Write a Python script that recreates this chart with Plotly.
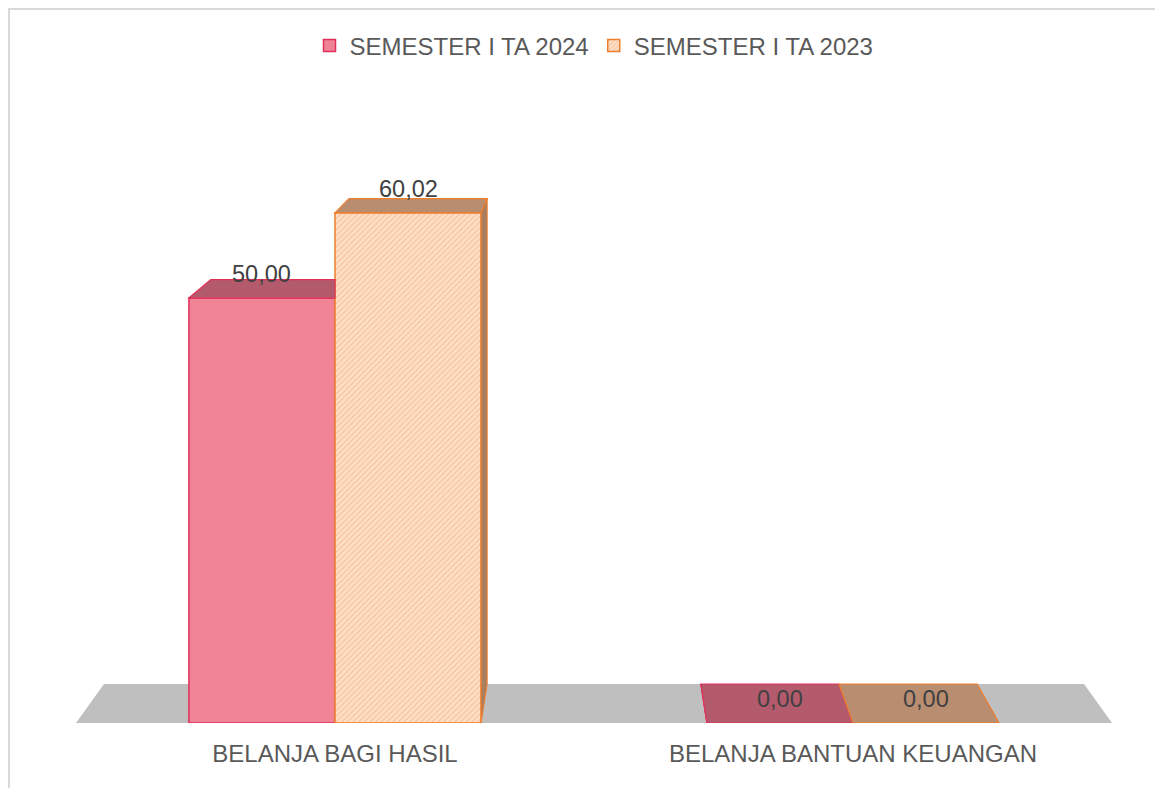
import plotly.graph_objects as go

# ---------------- data ----------------
categories = ["BELANJA BAGI HASIL", "BELANJA BANTUAN KEUANGAN"]
series_names = ["SEMESTER I TA 2024", "SEMESTER I TA 2023"]
sem_2024 = [50.00, 0.00]
sem_2023 = [60.02, 0.00]
labels_2024 = ["50,00", "0,00"]
labels_2023 = ["60,02", "0,00"]

# ---------------- geometry / style ----------------
# page body has an 8px margin, so the figure is sized to fit inside it
W, H = 1147, 780
ml, mt = 68, 120
plot_w, plot_h = 1036, 595
mr = W - ml - plot_w
mb = H - mt - plot_h
y_max = 70.0
px_x = plot_w / 2.0          # pixels per category unit
px_y = plot_h / y_max        # pixels per value unit

bargap = 0.436
bw = (1 - bargap) / 2.0
floor_depth_px = 39.0
shrink = 0.946               # perspective shrink of the back plane
cx = 0.5                     # horizontal vanishing centre (data units)
eye_px = 800.0

x_pos = list(range(len(categories)))

c24_fill, c24_line, c24_top, c24_side = "#F08396", "#E0305A", "#B35B6D", "#A24E60"
c23_bg, c23_fg, c23_line, c23_top, c23_side = "#FDE0C8", "#F2A26A", "#F07D2B", "#B98D70", "#A9805F"
text_col = "#595959"
lab_col = "#404040"
FONT = "Liberation Sans, Arial, sans-serif"


def depth(v):
    return floor_depth_px * (1 - v * px_y / eye_px) / px_y


def back_x(x):
    return cx + (x - cx) * shrink


fig = go.Figure()
fig.add_trace(go.Bar(
    x=x_pos, y=sem_2024, name=series_names[0],
    marker=dict(color=c24_fill, line=dict(color=c24_line, width=1.5)),
    hoverinfo="skip",
))
fig.add_trace(go.Bar(
    x=x_pos, y=sem_2023, name=series_names[1],
    marker=dict(color=c23_bg, line=dict(color=c23_line, width=1.5),
                pattern=dict(shape="/", fgcolor=c23_fg, bgcolor=c23_bg,
                             size=4, solidity=0.3)),
    hoverinfo="skip",
))

shapes = []
# floor
fd = floor_depth_px / px_y
fx0, fx1 = -0.5, 1.5
shapes.append(dict(
    type="path", xref="x", yref="y", layer="below",
    path=f"M {fx0} 0 L {fx1} 0 L {back_x(fx1)} {fd} L {back_x(fx0)} {fd} Z",
    fillcolor="#BFBFBF", line=dict(width=0),
))

annotations = []
series = [
    (sem_2024, labels_2024, -1, c24_top, c24_side, c24_line),
    (sem_2023, labels_2023, 0, c23_top, c23_side, c23_line),
]
for i, xc in enumerate(x_pos):
    vals = [s[0][i] for s in series]
    for k, (vals_s, labs, off, ctop, cside, cline) in enumerate(series):
        v = vals_s[i]
        x0 = xc + off * bw
        x1 = x0 + bw
        d = depth(v)
        bx0, bx1 = back_x(x0), back_x(x1)
        # side faces
        if x1 < cx and (k == len(series) - 1 or vals[k + 1] < v):
            shapes.append(dict(
                type="path", xref="x", yref="y", layer="above",
                path=f"M {x1} 0 L {x1} {v} L {bx1} {v + d} L {bx1} {fd} Z",
                fillcolor=cside, line=dict(color=cline, width=1),
            ))
        if x0 > cx and (k == 0 or vals[k - 1] < v):
            shapes.append(dict(
                type="path", xref="x", yref="y", layer="above",
                path=f"M {x0} 0 L {x0} {v} L {bx0} {v + d} L {bx0} {fd} Z",
                fillcolor=cside, line=dict(color=cline, width=1),
            ))
        # top face (clipped where a taller neighbour hides it)
        rx = bx1
        if k < len(series) - 1 and vals[k + 1] > v and bx1 > x1:
            rx = x1
        lx = bx0
        if k > 0 and vals[k - 1] > v and bx0 < x0:
            lx = x0
        shapes.append(dict(
            type="path", xref="x", yref="y", layer="above",
            path=f"M {x0} {v} L {x1} {v} L {rx} {v + d} L {lx} {v + d} Z",
            fillcolor=ctop, line=dict(color=cline, width=1.2),
        ))
        annotations.append(dict(
            x=(x0 + x1) / 2, y=v, xref="x", yref="y", text=labs[i],
            showarrow=False, yshift=24, yanchor="middle",
            font=dict(family=FONT, size=23.5, color=lab_col),
        ))

# outer border (left and top edges visible, the rest runs off the page)
shapes.append(dict(
    type="rect", xref="paper", yref="paper", layer="above",
    x0=(1 - ml) / plot_w, x1=(W + 30 - ml) / plot_w,
    y0=-(mb + 30) / plot_h, y1=1 + (mt - 1) / plot_h,
    line=dict(color="#D9D9D9", width=2), fillcolor="rgba(0,0,0,0)",
))

fig.update_layout(
    width=W, height=H,
    margin=dict(l=ml, r=mr, t=mt, b=mb),
    paper_bgcolor="white", plot_bgcolor="white",
    barmode="group", bargap=bargap, bargroupgap=0,
    font=dict(family=FONT, color=text_col),
    showlegend=True,
    legend=dict(orientation="h", x=0.5, xanchor="center",
                y=1 + (mt - 38) / plot_h, yanchor="middle",
                font=dict(size=24, color=text_col),
                itemwidth=30, traceorder="normal"),
    xaxis=dict(range=[-0.5, 1.5], tickvals=x_pos, ticktext=categories,
               showgrid=False, zeroline=False, showline=False,
               ticks="", ticklabelstandoff=14,
               tickfont=dict(size=24, color=text_col)),
    yaxis=dict(range=[0, y_max], showgrid=False, zeroline=False,
               showline=False, showticklabels=False),
    shapes=shapes,
    annotations=annotations,
)

fig.write_html("out.html")
